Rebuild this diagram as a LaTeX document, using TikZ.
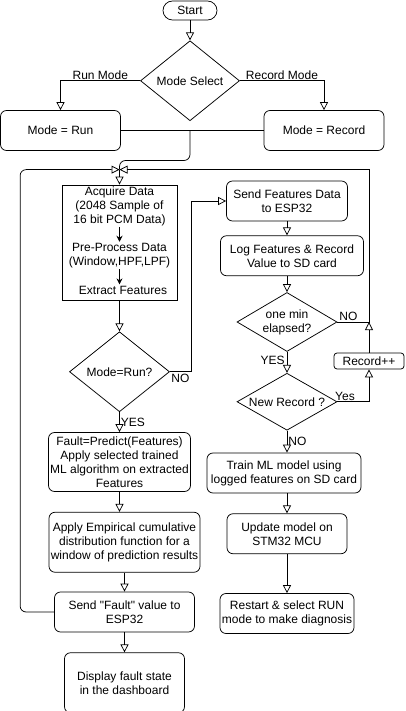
\documentclass[tikz,border=0pt]{standalone}
\usepackage{fontspec}
\setmainfont{Liberation Sans}[Ligatures=TeXOff]
\usetikzlibrary{arrows.meta, positioning, shapes.geometric}
\tikzstyle{startstop} = [rectangle, rounded corners=9.5pt, minimum width=54pt, minimum height=19pt, text centered, draw=black]
\tikzstyle{box} = [rectangle, rounded corners=6pt, minimum height=40pt, inner sep=1pt, align=center, draw=black]
\tikzstyle{decision} = [diamond, aspect=1.7, minimum width=100pt, inner sep=0pt, align=center, draw=black]
\tikzstyle{txt} = [inner sep=1pt, align=center]
\tikzstyle{arrow} = [-{Triangle[open, length=8pt, width=8pt]}]
\tikzstyle{inarrow} = [-{Stealth[length=6pt, width=6pt]}]

\begin{document}
\begin{tikzpicture}[
				x=1pt, y=-1pt,
				line width=0.75pt,
				font=\fontsize{12}{14}\selectfont,
				node distance=20pt
			]
			\useasboundingbox (0,0) rectangle (405,711);

			\node[startstop] (start) at (190,10.5) {Start};
			\node[decision, minimum width=99pt, minimum height=80pt, below=of start] (mode) {Mode Select};
			\node[box, minimum width=120pt] (run) at (60.5,130.5) {Mode = Run};
			\node[box, minimum width=120pt] (rec) at (324,130.5) {Mode = Record};

			% acquisition block
			\node[rectangle, draw=black, minimum width=115pt, minimum height=115pt] (proc) at (119.5,242.5) {};
			\node[txt] (acq) at (119.5,206) {Acquire Data\\(2048 Sample of\\16 bit PCM Data)};
			\node[txt] (pre) at (119.5,255.5) {Pre-Process Data\\(Window,HPF,LPF)};
			\node[txt] (ext) at (123,290) {Extract Features};
			\coordinate[above=15pt of proc.north] (junc);

			% run branch
			\node[decision, minimum height=80pt, below=31pt of proc] (modeq) {Mode=Run?};
			\node[box, minimum width=142pt, minimum height=59pt, below=of modeq] (fault) {Fault=Predict(Features)\\Apply selected trained\\ML algorithm on extracted\\Features};
			\node[box, minimum width=151pt, minimum height=60pt, below=of fault, xshift=5pt] (ecdf) {Apply Empirical cumulative\\distribution function for a\\window of prediction results};
			\node[box, minimum width=140pt, below=19pt of ecdf] (sendf) {Send "Fault" value to\\ESP32};
			\node[box, minimum width=120pt, minimum height=60pt, below=of sendf] (disp) {Display fault state\\in the dashboard};

			% record branch
			\node[box, minimum width=121pt] (send) at (287,201) {Send Features Data\\to ESP32};
			\node[box, minimum width=143pt, below=14pt of send, xshift=5pt] (log) {Log Features \& Record\\Value to SD card};
			\node[decision, minimum height=59pt, below=16pt of log, xshift=-5pt] (onemin) {one min\\elapsed?};
			\node[decision, minimum height=57pt, below=21pt of onemin] (newrec) {New Record ?};
			\node[box, minimum width=70pt, minimum height=16pt, rounded corners=3pt] (recpp) at (369,361) {Record++};
			\node[box, minimum width=154pt, below=22pt of newrec, xshift=-3pt] (train) {Train ML model using\\logged features on SD card};
			\node[box, minimum width=120pt, below=of train, xshift=3pt] (update) {Update model on\\STM32 MCU};
			\node[box, minimum width=134pt, below=39pt of update] (restart) {Restart \& select RUN\\mode to make diagnosis};

			\draw[arrow] (start) -- (mode);
			\draw[arrow] (mode.west) -| node[pos=0.25, above, inner sep=1pt] {Run Mode} (run.north);
			\draw[arrow] (mode.east) -| node[pos=0.25, above, inner sep=1pt] {Record Mode} (rec.north);
			\draw (run.east) -- (rec.west);
			\coordinate (merge) at (run.east -| mode.south);
			\draw[rounded corners=6pt] (merge) -- ++(0,30) -| (junc);
			\draw[arrow] (junc) -- (proc);

			% loops back to acquisition
			\draw[arrow, rounded corners=6pt] (sendf.west) -- ++(-34,0) |- (junc);
			\draw[arrow] (onemin.east) -- node[pos=0.35, above, inner sep=1pt] {NO} (onemin.east -| recpp.north) |- (junc);

			\draw[inarrow] (acq) -- (pre);
			\draw[inarrow] (pre.south) -- (pre.south |- ext.north);
			\draw[arrow] (proc) -- (modeq);
			\draw[arrow] (modeq) -- node[right, inner sep=1pt] {YES} (fault);
			\draw[arrow] (fault.south) -- (fault.south |- ecdf.north);
			\draw[arrow] (ecdf) -- (sendf);
			\draw[arrow] (sendf) -- (disp);
			\draw[arrow] (modeq.east) -- node[below, inner sep=2pt] {NO} ++(21,0) |- (send.west);

			\draw[arrow] (send.south) -- (send.south |- log.north);
			\draw[arrow] (onemin.north |- log.south) -- (onemin);
			\draw[arrow] (onemin) -- node[pos=0.4, left, inner sep=2pt] {YES} (newrec);
			\draw[arrow] (newrec.east) -| node[pos=0.12, above, inner sep=1pt] {Yes} (recpp.south);
			\draw[arrow] (recpp) -- (recpp.north |- onemin.east);
			\draw[arrow] (newrec) -- node[right, inner sep=1pt] {NO} (newrec.south |- train.north);
			\draw[arrow] (train.south -| update.north) -- (update);
			\draw[arrow] (update) -- (restart);
		\end{tikzpicture}
\end{document}
